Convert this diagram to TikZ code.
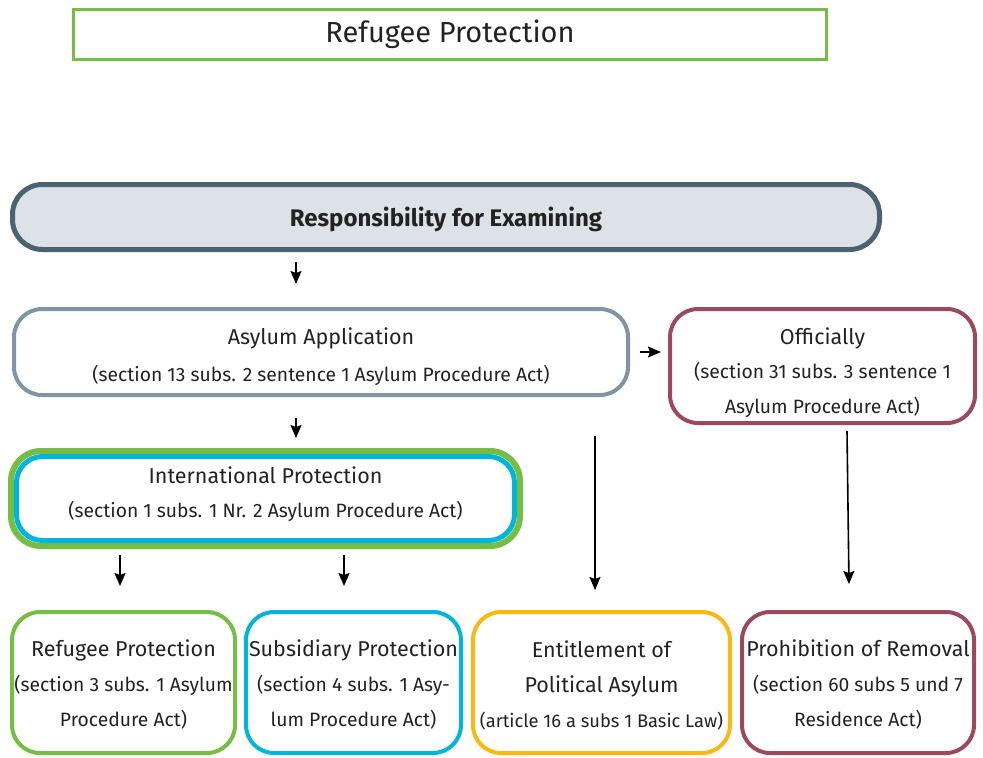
\documentclass[tikz,border=0pt]{standalone}
\usepackage{fontspec}
\setmainfont{Fira Sans}
\usepackage{tikz}
\usetikzlibrary{arrows.meta}
\definecolor{BoxGreen}{HTML}{76BD43}
\definecolor{BoxCyan}{HTML}{00B5DC}
\definecolor{BoxOrange}{HTML}{FBB813}
\definecolor{BoxMaroon}{HTML}{9A4A5A}
\definecolor{BoxSlate}{HTML}{4B6370}
\definecolor{BoxGrey}{HTML}{7F96A2}
\definecolor{RespFill}{HTML}{DDE1E8}
\definecolor{TextDark}{HTML}{222222}
\tikzstyle{roundBox}=[draw,rounded corners=28pt,line width=4pt,inner sep=0pt]
\tikzstyle{boxText}=[inner sep=0pt,align=center,text=TextDark,font=\fontsize{21.5}{35}\selectfont]
\tikzstyle{stateArrow}=[-{Stealth[length=13pt,width=11pt,inset=2pt]}, line width=1.6pt]
\newcommand{\subline}[1]{{\fontsize{19.3}{35}\selectfont #1}}

\begin{document}
\begin{tikzpicture}[x=1pt,y=-1pt]
    \useasboundingbox (0,0) rectangle (983,758);

    % Title
    \node[draw=BoxGreen,line width=3pt,minimum width=753pt,minimum height=50pt,inner sep=0pt,text=TextDark,font=\fontsize{29}{30}\selectfont] (title) at (450,34) {Refugee Protection};

    % Responsibility
    \node[roundBox,draw=BoxSlate,fill=RespFill,line width=5pt,rounded corners=30pt,minimum width=867pt,minimum height=65pt] (resp) at (446,217) {};
    \node[boxText,font=\fontsize{24}{26}\selectfont\bfseries] (respText) at (446,219) {Responsibility for Examining};

    % Asylum application and official examination
    \node[roundBox,draw=BoxGrey,minimum width=614pt,minimum height=86pt] (asyl) at (321,352) {};
    \node[boxText,font=\fontsize{21.5}{37}\selectfont] (asylText) at (321,357) {Asylum Application\\\subline{(section 13 subs. 2 sentence 1 Asylum Procedure Act)}};
    \node[roundBox,draw=BoxMaroon,minimum width=305pt,minimum height=114pt] (offi) at (822.5,366) {};
    \node[boxText,font=\fontsize{21.5}{34.5}\selectfont] (offiText) at (822.5,372.5) {Officially\\\subline{(section 31 subs. 3 sentence 1}\\\subline{Asylum Procedure Act)}};

    % International protection
    \node[roundBox,draw=BoxGreen,line width=6pt,minimum width=509pt,minimum height=95pt,rounded corners=30pt] (intlOuter) at (265.5,498.5) {};
    \node[roundBox,draw=BoxCyan,line width=5pt,minimum width=498pt,minimum height=84pt,rounded corners=26pt] (intl) at (265.5,498.5) {};
    \node[boxText,font=\fontsize{21.5}{34}\selectfont] (intlText) at (265.5,494) {International Protection\\\subline{(section 1 subs. 1 Nr. 2 Asylum Procedure Act)}};

    % Outcomes
    \node[roundBox,draw=BoxGreen,minimum width=223pt,minimum height=141pt] (refu) at (123.5,682.5) {};
    \node[boxText] (refuText) at (123.5,685) {Refugee Protection\\\subline{(section 3 subs. 1 Asylum}\\\subline{Procedure Act)}};
    \node[roundBox,draw=BoxCyan,minimum width=215pt,minimum height=141pt] (subs) at (353.5,682.5) {};
    \node[boxText] (subsText) at (353.5,685) {Subsidiary Protection\\\subline{(section 4 subs. 1 Asy-}\\\subline{lum Procedure Act)}};
    \node[roundBox,draw=BoxOrange,minimum width=257pt,minimum height=141pt] (poli) at (601.5,682.5) {};
    \node[boxText] (poliText) at (601.5,685) {Entitlement of\\Political Asylum\\{\fontsize{18.3}{35}\selectfont(article 16 a subs 1 Basic Law)}};
    \node[roundBox,draw=BoxMaroon,minimum width=232pt,minimum height=141pt] (remo) at (858,682.5) {};
    \node[boxText] (remoText) at (858,685) {Prohibition of Removal\\\subline{(section 60 subs 5 und 7}\\\subline{Residence Act)}};

    % Arrows
    \coordinate (respOut) at (296,262);
    \coordinate (asylIn) at (296,284);
    \draw[stateArrow] (respOut) -- (asylIn);
    \coordinate (asylRight) at (640,352);
    \coordinate (offiIn) at (661,352);
    \draw[stateArrow] (asylRight) -- (offiIn);
    \coordinate (asylOut) at (296,418);
    \coordinate (intlIn) at (296,438);
    \draw[stateArrow] (asylOut) -- (intlIn);
    \coordinate (intlOutA) at (120,555);
    \coordinate (refuIn) at (120,586);
    \draw[stateArrow] (intlOutA) -- (refuIn);
    \coordinate (intlOutB) at (344,555);
    \coordinate (subsIn) at (344,586);
    \draw[stateArrow] (intlOutB) -- (subsIn);
    \coordinate (asylDown) at (595,436);
    \coordinate (poliIn) at (595,590);
    \draw[stateArrow] (asylDown) -- (poliIn);
    \coordinate (offiOut) at (847,431);
    \coordinate (remoIn) at (849,584);
    \draw[stateArrow] (offiOut) -- (remoIn);

\end{tikzpicture}
\end{document}
